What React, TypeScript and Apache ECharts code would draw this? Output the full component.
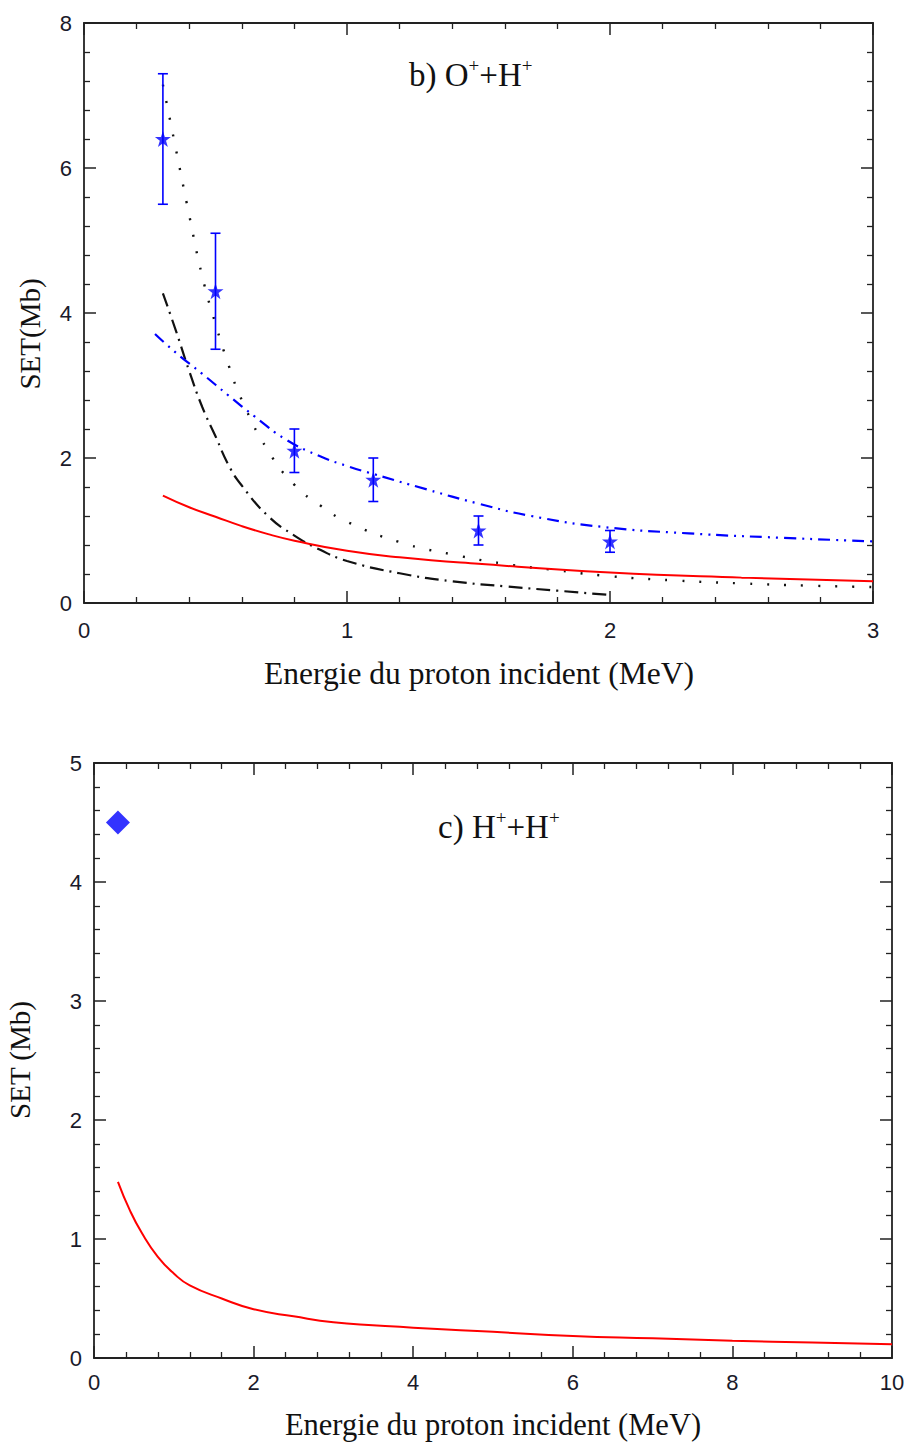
import React, { useEffect, useRef } from "react";
import * as echarts from "echarts";

// ---------- Data: panel b) O+ + H+ ----------
const expX = [0.3, 0.5, 0.8, 1.1, 1.5, 2.0];
const expY = [6.4, 4.3, 2.1, 1.7, 1.0, 0.85];
const expLow = [5.5, 3.5, 1.8, 1.4, 0.8, 0.7];
const expHigh = [7.3, 5.1, 2.4, 2.0, 1.2, 1.0];

const redB: [number, number][] = [
  [0.3, 1.48], [0.4, 1.32], [0.5, 1.19], [0.6, 1.06], [0.7, 0.95], [0.8, 0.86],
  [1.0, 0.72], [1.2, 0.63], [1.5, 0.54], [2.0, 0.42], [2.5, 0.35], [3.0, 0.3],
];
const dashDotB: [number, number][] = [
  [0.3, 4.27], [0.35, 3.75], [0.4, 3.2], [0.45, 2.7], [0.5, 2.3], [0.55, 1.9],
  [0.6, 1.62], [0.7, 1.2], [0.8, 0.93], [0.9, 0.73], [1.0, 0.58], [1.2, 0.41],
  [1.4, 0.3], [1.6, 0.23], [1.8, 0.17], [2.0, 0.11],
];
const dottedB: [number, number][] = [
  [0.3, 7.15], [0.35, 6.25], [0.4, 5.35], [0.45, 4.5], [0.5, 3.85], [0.55, 3.28],
  [0.6, 2.8], [0.7, 2.1], [0.8, 1.63], [0.9, 1.34], [1.0, 1.12], [1.2, 0.84],
  [1.4, 0.67], [1.6, 0.54], [1.8, 0.45], [2.0, 0.37], [2.25, 0.31], [2.5, 0.27],
  [2.75, 0.24], [3.0, 0.22],
];
const blueB: [number, number][] = [
  [0.27, 3.71], [0.35, 3.45], [0.45, 3.16], [0.55, 2.86], [0.65, 2.57], [0.77, 2.25],
  [0.9, 2.02], [1.0, 1.89], [1.1, 1.78], [1.3, 1.57], [1.5, 1.37], [1.7, 1.2],
  [1.97, 1.05], [2.3, 0.96], [2.65, 0.9], [3.0, 0.85],
];

// ---------- Data: panel c) H+ + H+ ----------
const diamondC: [number, number][] = [[0.3, 4.5]];
const redC: [number, number][] = [
  [0.3, 1.48], [0.45, 1.24], [0.6, 1.05], [0.8, 0.85], [1.0, 0.71], [1.2, 0.61],
  [1.6, 0.5], [2.0, 0.41], [2.5, 0.35], [3.0, 0.3], [4.0, 0.255], [5.0, 0.22],
  [6.0, 0.185], [7.0, 0.165], [8.0, 0.145], [9.0, 0.13], [10.0, 0.115],
];

const SANS = "'Liberation Sans', Arial, sans-serif";
const SERIF = "'Liberation Serif', 'Times New Roman', serif";
const AXIS_COLOR = "#222";
const STAR =
  "path://M50,0 L61.8,35.1 L98.9,35.1 L68.9,57 L80.3,92.7 L50,70.8 L19.7,92.7 L31.1,57 L1.1,35.1 L38.2,35.1 Z";

function makeAxis(
  gridIndex: number,
  min: number,
  max: number,
  interval: number,
  position: string,
  showLabel: boolean,
  labelMargin: number
) {
  return {
    type: "value",
    gridIndex,
    min,
    max,
    interval,
    position,
    axisLine: { show: true, onZero: false, lineStyle: { color: AXIS_COLOR, width: 1.8 } },
    axisTick: { show: true, inside: true, length: 12, lineStyle: { color: AXIS_COLOR, width: 1.5 } },
    minorTick: { show: true, splitNumber: 5, length: 6, lineStyle: { color: AXIS_COLOR, width: 1.3 } },
    splitLine: { show: false },
    minorSplitLine: { show: false },
    axisLabel: {
      show: showLabel,
      margin: labelMargin,
      color: "#1a1a2a",
      fontFamily: SANS,
      fontSize: 22,
    },
  };
}

function lineSeries(axis: number, data: [number, number][], color: string, type: any, width: number) {
  return {
    type: "line",
    xAxisIndex: axis,
    yAxisIndex: axis,
    data,
    showSymbol: false,
    smooth: 0.5,
    lineStyle: { color, width, type },
  };
}

export default function App() {
  const ref = useRef<HTMLDivElement>(null);

  useEffect(() => {
    if (!ref.current) return;
    const chart = echarts.init(ref.current, undefined, { renderer: "svg" });

    const errData = expX.map((x, i) => [x, expLow[i], expHigh[i]]);
    const starData = expX.map((x, i) => [x, expY[i]]);
    const supRich = {
      sup: { fontSize: 19, fontFamily: SERIF, verticalAlign: "top", padding: [0, 0, 18, 0] },
    };

    const option: any = {
      animation: false,
      backgroundColor: "#fff",
      grid: [
        { left: 84, top: 23, width: 789, height: 580, containLabel: false },
        { left: 94, top: 763, width: 798, height: 595, containLabel: false },
      ],
      xAxis: [
        makeAxis(0, 0, 3, 1, "bottom", true, 16),
        makeAxis(0, 0, 3, 1, "top", false, 8),
        makeAxis(1, 0, 10, 2, "bottom", true, 13),
        makeAxis(1, 0, 10, 2, "top", false, 8),
      ],
      yAxis: [
        makeAxis(0, 0, 8, 2, "left", true, 12),
        makeAxis(0, 0, 8, 2, "right", false, 8),
        makeAxis(1, 0, 5, 1, "left", true, 12),
        makeAxis(1, 0, 5, 1, "right", false, 8),
      ],
      graphic: [
        {
          type: "text",
          left: 409,
          top: 56,
          style: { text: "b) O{sup|+}+H{sup|+}", font: `33px ${SERIF}`, fill: "#111", rich: supRich },
        },
        {
          type: "text",
          left: 438,
          top: 808,
          style: { text: "c) H{sup|+}+H{sup|+}", font: `33px ${SERIF}`, fill: "#111", rich: supRich },
        },
        {
          type: "text",
          x: 479,
          y: 673,
          style: {
            text: "Energie du proton incident (MeV)",
            font: `31.5px ${SERIF}`,
            fill: "#111",
            textAlign: "center",
            textVerticalAlign: "middle",
          },
        },
        {
          type: "text",
          x: 493,
          y: 1425,
          style: {
            text: "Energie du proton incident (MeV)",
            font: `30.5px ${SERIF}`,
            fill: "#111",
            textAlign: "center",
            textVerticalAlign: "middle",
          },
        },
        {
          type: "text",
          x: 30,
          y: 334,
          rotation: Math.PI / 2,
          style: {
            text: "SET(Mb)",
            font: `29px ${SERIF}`,
            fill: "#111",
            textAlign: "center",
            textVerticalAlign: "middle",
          },
        },
        {
          type: "text",
          x: 20,
          y: 1060,
          rotation: Math.PI / 2,
          style: {
            text: "SET (Mb)",
            font: `29px ${SERIF}`,
            fill: "#111",
            textAlign: "center",
            textVerticalAlign: "middle",
          },
        },
      ],
      series: [
        lineSeries(0, dottedB, "#111", [2, 15], 2.4),
        lineSeries(0, dashDotB, "#111", [14, 6, 2, 6], 2.2),
        lineSeries(0, blueB, "#0000ff", [12, 6, 2, 6, 2, 6], 2.2),
        lineSeries(0, redB, "#ff0000", "solid", 2),
        {
          type: "custom",
          xAxisIndex: 0,
          yAxisIndex: 0,
          data: errData,
          encode: { x: 0, y: [1, 2] },
          z: 5,
          renderItem: (params: any, api: any) => {
            const x = api.value(0);
            const lo = api.coord([x, api.value(1)]);
            const hi = api.coord([x, api.value(2)]);
            const w = 5;
            const st = { stroke: "#0000ff", lineWidth: 1.6 };
            return {
              type: "group",
              children: [
                { type: "line", shape: { x1: lo[0], y1: lo[1], x2: hi[0], y2: hi[1] }, style: st },
                { type: "line", shape: { x1: lo[0] - w, y1: lo[1], x2: lo[0] + w, y2: lo[1] }, style: st },
                { type: "line", shape: { x1: hi[0] - w, y1: hi[1], x2: hi[0] + w, y2: hi[1] }, style: st },
              ],
            };
          },
        },
        {
          type: "scatter",
          xAxisIndex: 0,
          yAxisIndex: 0,
          data: starData,
          symbol: STAR,
          symbolSize: 16,
          z: 6,
          itemStyle: { color: "#0000ff" },
        },
        lineSeries(2, redC, "#ff0000", "solid", 2),
        {
          type: "scatter",
          xAxisIndex: 2,
          yAxisIndex: 2,
          data: diamondC,
          symbol: "diamond",
          symbolSize: [24, 24],
          itemStyle: { color: "#0000ff" },
        },
      ],
    };

    chart.setOption(option);
    return () => chart.dispose();
  }, []);

  return (
    <div
      ref={ref}
      style={{ position: "absolute", left: 0, top: 0, width: 909, height: 1443, background: "#fff" }}
    />
  );
}
